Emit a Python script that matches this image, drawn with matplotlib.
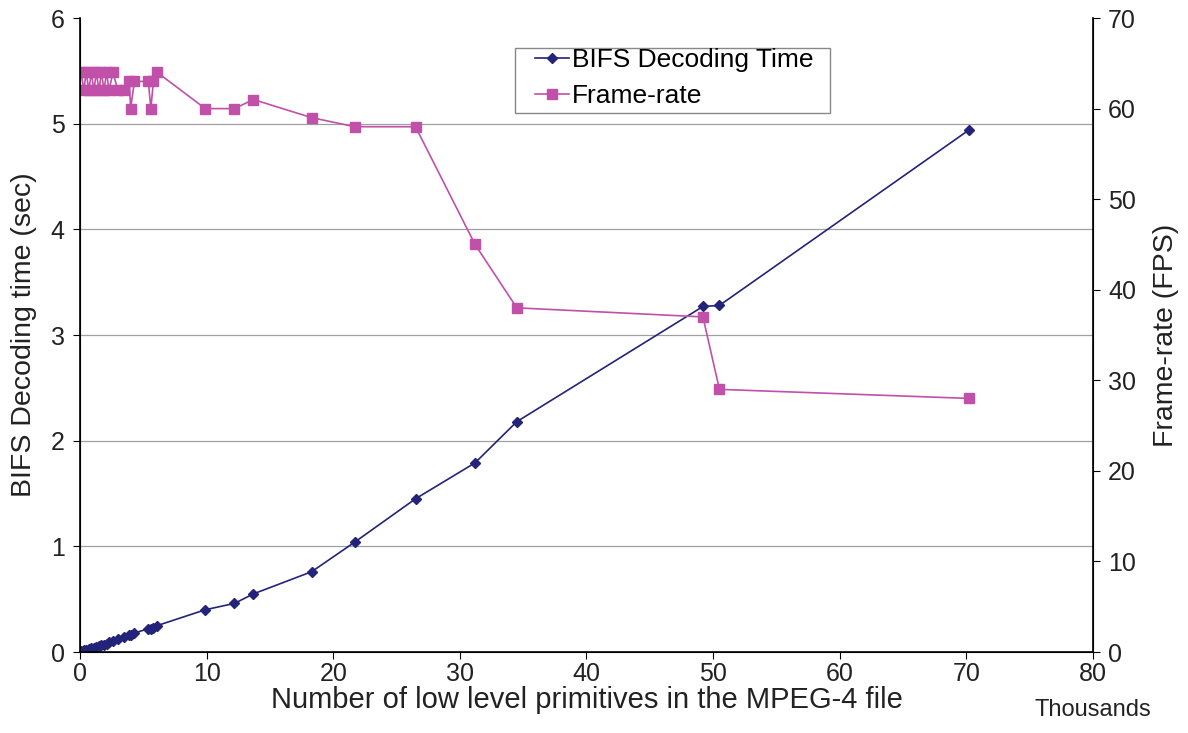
import matplotlib.pyplot as plt
from matplotlib import transforms
from matplotlib.patches import Rectangle

plt.rcParams['font.family'] = ['Liberation Sans', 'DejaVu Sans']

# x in thousands of primitives
prims = [0.1, 0.3, 0.5, 0.7, 0.9, 1.1, 1.3, 1.5, 1.7, 1.9, 2.1, 2.3, 2.6, 3.0,
         3.5, 3.9, 4.0, 4.3, 5.4, 5.6, 5.8, 6.1, 9.9, 12.2, 13.7, 18.3, 21.7,
         26.5, 31.2, 34.5, 49.2, 50.5, 70.2]
decode_time = [0.01, 0.02, 0.02, 0.03, 0.04, 0.04, 0.05, 0.06, 0.07, 0.07, 0.08, 0.09, 0.10, 0.12,
               0.14, 0.16, 0.16, 0.18, 0.22, 0.22, 0.23, 0.25, 0.40, 0.46, 0.55, 0.76, 1.04,
               1.45, 1.79, 2.18, 3.27, 3.28, 4.94]
fps = [64, 62, 64, 62, 64, 62, 64, 62, 64, 62, 64, 62, 64, 62,
       62, 63, 60, 63, 63, 60, 63, 64, 60, 60, 61, 59, 58,
       58, 45, 38, 37, 29, 28]

navy = '#23237a'
pink = '#c050a8'
txt = '#222222'

fig = plt.figure(figsize=(11.88, 7.33), dpi=100)
ax = fig.add_axes([0.0673, 0.1105, 0.8527, 0.8649])
ax2 = ax.twinx()

l1, = ax.plot(prims, decode_time, color=navy, marker='D', markersize=5, lw=1.2,
              label='BIFS Decoding Time')
l2, = ax2.plot(prims, fps, color=pink, marker='s', markersize=6.5, lw=1.2,
               label='Frame-rate')

ax.set_xlim(0, 80)
ax.set_ylim(0, 6)
ax2.set_ylim(0, 70)
ax.set_xticks(range(0, 81, 10))
ax.set_yticks(range(0, 7))
ax2.set_yticks(range(0, 71, 10))

ax.grid(axis='y', color='#a0a0a0', lw=0.9)
ax.get_ygridlines()[-1].set_visible(False)
ax.set_axisbelow(True)
for a in (ax, ax2):
    a.spines['top'].set_visible(False)
    a.tick_params(labelsize=18, direction='out', length=5, colors='black',
                  labelcolor=txt, pad=6)
ax.tick_params(axis='x', pad=2)
ax2.spines['right'].set_linewidth(1.2)
ax.spines['left'].set_linewidth(1.2)
ax.spines['bottom'].set_linewidth(1.2)

ax.set_xlabel('Number of low level primitives in the MPEG-4 file', fontsize=21,
              color=txt, labelpad=0)
ax.set_ylabel('BIFS Decoding time (sec)', fontsize=20.5, color=txt, labelpad=10)
ax2.set_ylabel('Frame-rate (FPS)', fontsize=20.5, color=txt, labelpad=12)

trans = transforms.blended_transform_factory(ax.transData, ax.transAxes)
ax.annotate('Thousands', xy=(80, 0), xycoords=trans, xytext=(0, -42),
            textcoords='offset points', ha='center', va='center', fontsize=17,
            color=txt)

# legend box drawn separately so the inner padding matches
ax2.add_patch(Rectangle((515 / 1188, 1 - 113 / 733), 315 / 1188, 65 / 733,
                        transform=fig.transFigure, facecolor='white',
                        edgecolor='#888888', lw=1.0, zorder=4, clip_on=False))
leg = ax2.legend(handles=[l1, l2], loc='upper left',
                 bbox_to_anchor=(535 / 1188, 1 - 48 / 733),
                 bbox_transform=fig.transFigure,
                 fontsize=19, frameon=False, handlelength=1.3,
                 handletextpad=0.1, borderpad=0, labelspacing=0.45,
                 borderaxespad=0)
leg.set_zorder(6)

fig.savefig('out.png', dpi=100)
